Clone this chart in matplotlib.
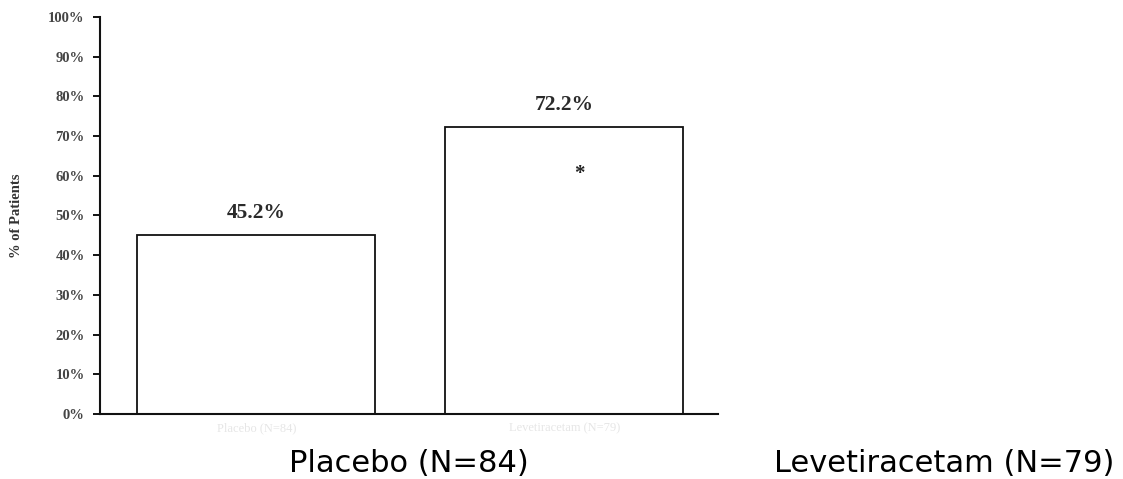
import matplotlib.pyplot as plt
from matplotlib.ticker import PercentFormatter

# values
groups = ['Placebo (N=84)', 'Levetiracetam (N=79)']
responders = [45.2, 72.2]
value_labels = ['45.2%', '72.2%']
yticks = [0, 10, 20, 30, 40, 50, 60, 70, 80, 90, 100]

fig = plt.figure(figsize=(11.23, 4.79), dpi=100)
ax = fig.add_axes([0.089, 0.1357, 0.55, 0.829])

x = range(len(groups))
bars = ax.bar(x, responders, width=0.773, color='white', edgecolor='#111111', linewidth=1.3)

for b, lab in zip(bars, value_labels):
    ax.text(b.get_x() + b.get_width() / 2, b.get_height() + 3, lab,
            ha='center', va='bottom', family='Liberation Serif',
            fontweight='bold', fontsize=15.5, color='#2a2a2a')

# significance marker
ax.text(1.05, 60.5, '*', ha='center', va='center', family='Liberation Serif',
        fontweight='bold', fontsize=15, color='#222222')

ax.set_xlim(-0.508, 1.498)
ax.set_ylim(0, 100)
ax.set_yticks(yticks)
ax.yaxis.set_major_formatter(PercentFormatter(decimals=0))
for t in ax.get_yticklabels():
    t.set_family('Liberation Serif')
    t.set_fontweight('bold')
    t.set_fontsize(10.5)
    t.set_color('#444444')
ax.tick_params(axis='y', length=5, width=1.3, direction='out', pad=6)

# washed-out original category labels under the axis
ax.set_xticks(list(x))
ax.set_xticklabels(groups, fontsize=9, color='#e6e6e6', family='Liberation Serif')
ax.tick_params(axis='x', length=0, pad=6)

ax.set_ylabel('% of Patients', family='Liberation Serif', fontweight='bold',
              fontsize=10.5, color='#333333', labelpad=18)

for s in ['top', 'right']:
    ax.spines[s].set_visible(False)
for s in ['left', 'bottom']:
    ax.spines[s].set_linewidth(1.5)
    ax.spines[s].set_color('#111111')

# large group labels below the chart
fig.text(0.364, 0.0146, groups[0], ha='center', va='baseline', fontsize=22, color='black')
fig.text(0.841, 0.0146, groups[1], ha='center', va='baseline', fontsize=22, color='black')

fig.savefig('out.png', dpi=100, facecolor='white')
